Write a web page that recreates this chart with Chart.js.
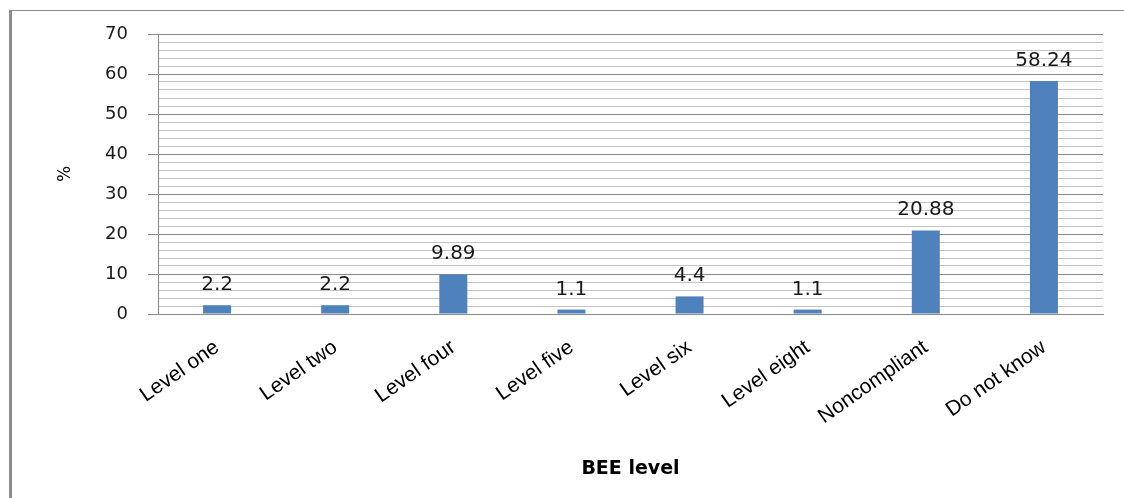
<!DOCTYPE html>
<html>
<head>
<meta charset="utf-8">
<script src="https://cdn.jsdelivr.net/npm/chart.js@4/dist/chart.umd.min.js"></script>
<style>
  html, body { margin: 0; padding: 0; background: #fff; }
  #frame {
    position: absolute; left: 9px; top: 10px;
    width: 1112px; height: 487px;
    border-top: 1px solid #8c8c8c;
    border-left: 3px solid #8c8c8c;
  }
  #wrap { position: relative; width: 1112px; height: 487px; }
</style>
</head>
<body>
<div id="frame"><div id="wrap"><canvas id="c"></canvas></div></div>
<script>
// BEE level distribution (%)
const categories = ['Level one', 'Level two', 'Level four', 'Level five', 'Level six', 'Level eight', 'Noncompliant', 'Do not know'];
const shares = [2.2, 2.2, 9.89, 1.1, 4.4, 1.1, 20.88, 58.24];
const valueLabels = ['2.2', '2.2', '9.89', '1.1', '4.4', '1.1', '20.88', '58.24'];
// horizontal grid lines every 2 %, labelled every 10 %
const yGridValues = [0, 2, 4, 6, 8, 10, 12, 14, 16, 18, 20, 22, 24, 26, 28, 30, 32, 34,
  36, 38, 40, 42, 44, 46, 48, 50, 52, 54, 56, 58, 60, 62, 64, 66, 68, 70];
const yMin = 0, yMax = 70, yLabelEvery = 10;

const axisGray = '#8a8a8a';
const minorGray = '#c4c4c4';
const isMajor = ctx => ctx.tick && Math.round(ctx.tick.value) % yLabelEvery === 0;

// writes each bar's value above it
const valueLabelPlugin = {
  id: 'valueLabels',
  afterDatasetsDraw(chart) {
    const ctx = chart.ctx;
    const meta = chart.getDatasetMeta(0);
    ctx.save();
    ctx.font = '20px "DejaVu Sans"';
    ctx.fillStyle = '#1a1a1a';
    ctx.textAlign = 'center';
    ctx.textBaseline = 'alphabetic';
    meta.data.forEach((bar, i) => {
      ctx.fillText(valueLabels[i], bar.x, bar.y - 15);
    });
    ctx.restore();
  }
};

new Chart(document.getElementById('c'), {
  type: 'bar',
  data: {
    labels: categories,
    datasets: [{
      data: shares,
      backgroundColor: '#4F81BD',
      borderWidth: 0,
      categoryPercentage: 1,
      barPercentage: 0.237
    }]
  },
  options: {
    responsive: true,
    maintainAspectRatio: false,
    animation: false,
    layout: { padding: { left: 40, top: 23, right: 21, bottom: 0 } },
    plugins: {
      legend: { display: false },
      tooltip: { enabled: false }
    },
    scales: {
      x: {
        grid: { display: false },
        border: { display: true, color: axisGray, width: 1 },
        ticks: {
          autoSkip: false,
          minRotation: 35,
          maxRotation: 35,
          padding: 13,
          color: '#000',
          font: { family: '"Liberation Sans"', size: 21 }
        },
        title: {
          display: true,
          text: 'BEE level',
          color: '#000',
          font: { family: '"DejaVu Sans"', size: 19, weight: 'bold' },
          padding: { top: 0, bottom: 18 }
        },
        afterFit(scale) {
          scale.height = 184;
          scale.paddingLeft = 0;
          scale.paddingRight = 0;
        }
      },
      y: {
        min: yMin,
        max: yMax,
        afterBuildTicks(scale) {
          scale.ticks = yGridValues.map(v => ({ value: v }));
        },
        grid: {
          color: ctx => isMajor(ctx) ? axisGray : minorGray,
          tickColor: ctx => isMajor(ctx) ? axisGray : 'rgba(0,0,0,0)',
          tickLength: 10,
          drawTicks: true,
          lineWidth: 1
        },
        border: { display: true, color: axisGray, width: 1 },
        ticks: {
          autoSkip: false,
          padding: 20,
          color: '#1a1a1a',
          font: { family: '"DejaVu Sans"', size: 18 },
          callback: v => (Math.round(v) % yLabelEvery === 0 ? String(v) : '')
        },
        title: {
          display: true,
          text: '%',
          color: '#000',
          font: { family: '"DejaVu Sans"', size: 17 },
          padding: { top: 3, bottom: 0 }
        },
        afterFit(scale) {
          scale.width = 106;
          scale.paddingTop = 0;
          scale.paddingBottom = 0;
        }
      }
    }
  },
  plugins: [valueLabelPlugin]
});
</script>
</body>
</html>
